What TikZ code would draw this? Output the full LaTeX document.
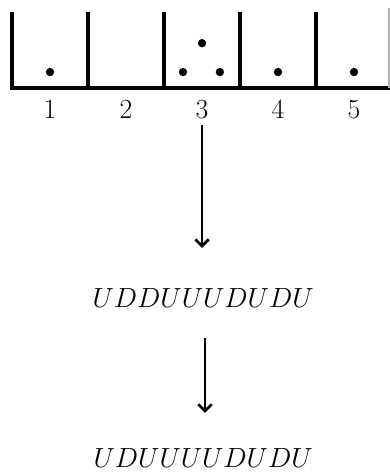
\documentclass[tikz,border=0pt]{standalone}
\usepackage{amsmath}
\usepackage{tikz}
\usetikzlibrary{arrows.meta}
\tikzset{wall/.style={line width=2.3pt},
         ball/.style={fill=black},
         flow/.style={-{Straight Barb[length=5pt,width=10pt]},line width=2pt},
         label/.style={font=\huge},
         word/.style={font=\huge}}

\begin{document}
\begin{tikzpicture}
\useasboundingbox (-0.316,-10.105) rectangle (9.947,2.316);
% the boxes
\draw[wall] (-0.05,0)--(9.947,0);
\foreach \x in {0,2,4,6,8} \draw[wall] (\x,0)--(\x,2);
\draw[gray!60,line width=1pt] (9.92,0)--(9.92,2.1);
\foreach \i in {1,...,5} \node[label] (n\i) at (2*\i-1,-0.56) {$\i$};
% balls
\foreach \p in {(1,0.42),(4.5,0.42),(5.47,0.42),(5,1.18),(7,0.42),(9,0.42)}
  \fill[ball] \p circle (0.11);
% words and arrows
\node[word] (w1) at (5.03,-5.54) {$UDDUUUDUDU$};
\node[word] (w2) at (5.03,-9.74) {$UDUUUUDUDU$};
\coordinate (a1) at (5,-0.97);
\coordinate (a2) at (5.08,-6.58);
\draw[flow] (a1)--(a1 |- {(0,-4.21)});
\draw[flow] (a2)--(a2 |- {(0,-8.55)});
\end{tikzpicture}
\end{document}
